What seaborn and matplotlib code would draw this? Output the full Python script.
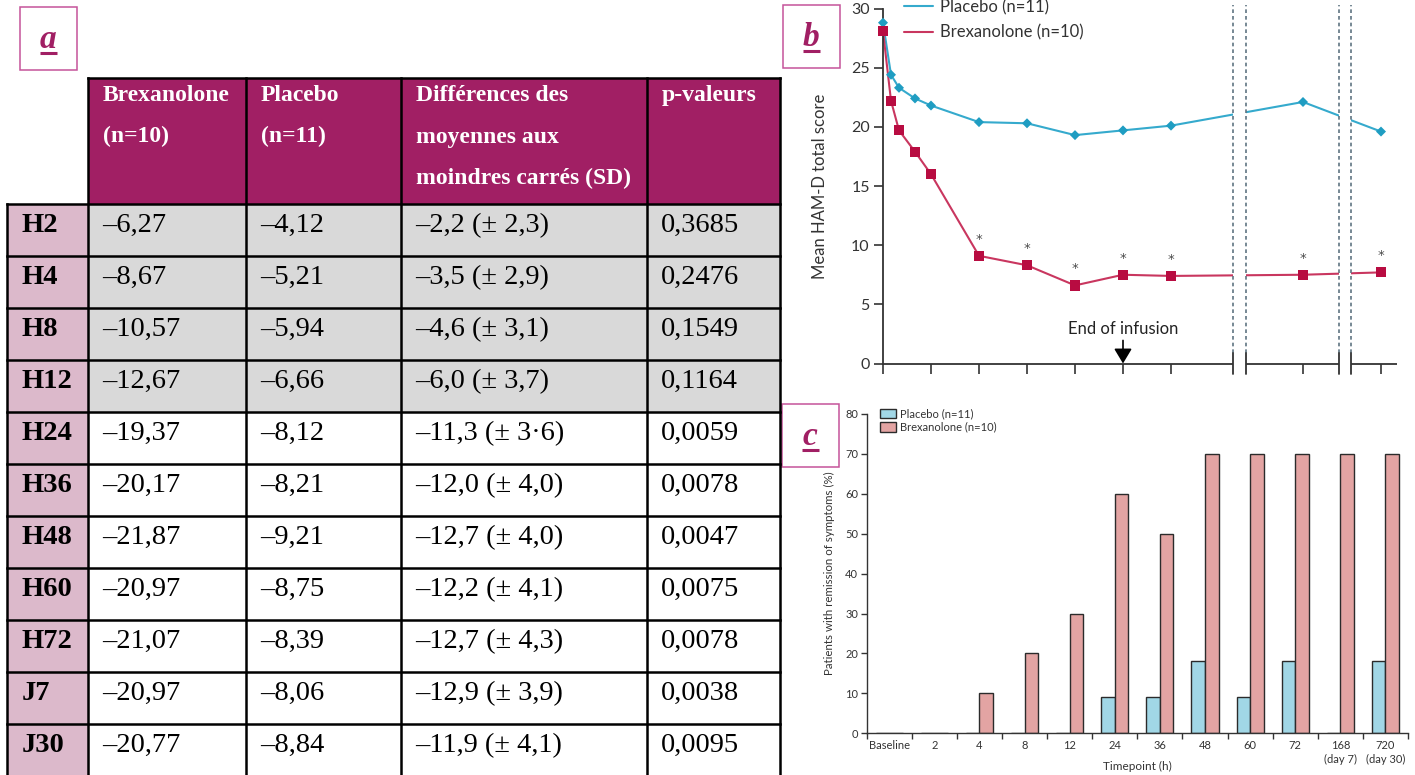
import numpy as np
import pandas as pd
import matplotlib
matplotlib.use("Agg")
import matplotlib.pyplot as plt
from matplotlib.patches import Rectangle, Patch
from matplotlib.lines import Line2D
import seaborn as sns

# ---------------- data ----------------
# (a) change from baseline in HAM-D total score
table_rows = ["H2", "H4", "H8", "H12", "H24", "H36", "H48", "H60", "H72", "J7", "J30"]
table_headers = [
    ["Brexanolone", "(n=10)"],
    ["Placebo", "(n=11)"],
    ["Différences des", "moyennes aux", "moindres carrés (SD)"],
    ["p-valeurs"],
]
brex_change = ["–6,27", "–8,67", "–10,57", "–12,67", "–19,37", "–20,17",
               "–21,87", "–20,97", "–21,07", "–20,97", "–20,77"]
placebo_change = ["–4,12", "–5,21", "–5,94", "–6,66", "–8,12", "–8,21",
                  "–9,21", "–8,75", "–8,39", "–8,06", "–8,84"]
ls_mean_diff = ["–2,2 (± 2,3)", "–3,5 (± 2,9)", "–4,6 (± 3,1)", "–6,0 (± 3,7)",
                "–11,3 (± 3·6)", "–12,0 (± 4,0)", "–12,7 (± 4,0)", "–12,2 (± 4,1)",
                "–12,7 (± 4,3)", "–12,9 (± 3,9)", "–11,9 (± 4,1)"]
p_values = ["0,3685", "0,2476", "0,1549", "0,1164", "0,0059", "0,0078",
            "0,0047", "0,0075", "0,0078", "0,0038", "0,0095"]

# (b) mean HAM-D total score over time (hours)
hours = [0, 2, 4, 8, 12, 24, 36, 48, 60, 72, 168, 720]
hamd_placebo = [28.8, 24.4, 23.3, 22.4, 21.8, 20.4, 20.3, 19.3, 19.7, 20.1, 22.1, 19.6]
hamd_brex = [28.1, 22.2, 19.7, 17.9, 16.0, 9.1, 8.3, 6.6, 7.5, 7.4, 7.5, 7.7]

# (c) patients with remission of symptoms (%)
remission_labels = ["Baseline", "2", "4", "8", "12", "24", "36", "48", "60", "72",
                    "168\n(day 7)", "720\n(day 30)"]
remission_placebo = [0, 0, 0, 0, 0, 9.1, 9.1, 18.2, 9.1, 18.2, 0, 18.2]
remission_brex = [0, 0, 10, 20, 30, 60, 50, 70, 70, 70, 70, 70]

PLACEBO = "Placebo (n=11)"
BREX = "Brexanolone (n=10)"

# ---------------- style ----------------
sns.set_theme(style="white")
plt.rcParams["font.family"] = ["Lato", "DejaVu Sans"]
SERIF = "Liberation Serif"

PURPLE = "#A11F64"
PINK_CELL = "#DCB9CB"
GRAY_ROW = "#D9D9D9"
BOX_EDGE = "#C5549A"
AXIS = "#333333"

W, H = 1415, 775
fig = plt.figure(figsize=(W / 100, H / 100), dpi=100)

# full-figure canvas in pixel units for the table and panel tags
canvas = fig.add_axes([0, 0, 1, 1])
canvas.set_xlim(0, W)
canvas.set_ylim(H, 0)
canvas.axis("off")


def px_axes(left, top, right, bottom):
    return fig.add_axes([left / W, 1 - bottom / H, (right - left) / W, (bottom - top) / H])


def panel_tag(x0, y0, letter):
    canvas.add_patch(Rectangle((x0, y0), 57, 63, fc="white", ec=BOX_EDGE, lw=1.1))
    canvas.text(x0 + 28, y0 + 41, letter, family=SERIF, weight="bold", style="italic",
                size=24, color=PURPLE, ha="center", va="baseline")
    canvas.plot([x0 + 19.5, x0 + 36.5], [y0 + 46, y0 + 46], color=PURPLE, lw=2.2,
                solid_capstyle="butt")


# ---------------- (a) table ----------------
col_x = [88, 246, 401, 647, 780]
label_x0 = 7
header_top, body_top, row_h = 78, 204, 52
p_float = [float(p.replace(",", ".")) for p in p_values]
n_rows = len(table_rows)
table_bottom = body_top + n_rows * row_h + 10

canvas.add_patch(Rectangle((col_x[0], header_top), col_x[-1] - col_x[0],
                           body_top - header_top, fc=PURPLE, lw=0))
canvas.add_patch(Rectangle((label_x0, body_top), col_x[0] - label_x0,
                           table_bottom - body_top, fc=PINK_CELL, lw=0))
for i, p in enumerate(p_float):
    fill = GRAY_ROW if p > 0.05 else "white"
    canvas.add_patch(Rectangle((col_x[0], body_top + i * row_h), col_x[-1] - col_x[0],
                               row_h, fc=fill, lw=0))

line_kw = dict(color="black", lw=1.8, solid_capstyle="projecting")
canvas.plot([col_x[0], col_x[-1]], [header_top, header_top], **line_kw)
for i in range(n_rows + 1):
    y = body_top + i * row_h
    canvas.plot([label_x0, col_x[-1]], [y, y], **line_kw)
canvas.plot([label_x0, label_x0], [body_top, table_bottom], **line_kw)
for x in col_x:
    canvas.plot([x, x], [header_top, table_bottom], **line_kw)

header_baselines = [100.7, 142.5, 184.3]
for j, lines in enumerate(table_headers):
    for k, txt in enumerate(lines):
        canvas.text(col_x[j] + 15, header_baselines[k], txt, family=SERIF, weight="bold",
                    size=17, color="white", ha="left", va="baseline")

columns = [brex_change, placebo_change, ls_mean_diff, p_values]
for i, lab in enumerate(table_rows):
    yb = body_top + i * row_h + 28
    canvas.text(label_x0 + 15, yb, lab, family=SERIF, weight="bold", size=20.5,
                color="black", ha="left", va="baseline")
    for j, col in enumerate(columns):
        canvas.text(col_x[j] + 14, yb, col[i], family=SERIF, size=20.5,
                    color="black", ha="left", va="baseline")

panel_tag(20, 7, "a")
panel_tag(783, 5, "b")
panel_tag(782, 404, "c")


# ---------------- (b) HAM-D time course ----------------
def broken_x(h):
    # hours up to 72 are linear; later visits sit after axis breaks
    return float(h) if h <= 72 else {168: 105.0, 720: 124.5}[h]


breaks = [(87.5, 90.75), (114.0, 117.0)]
x_end = 128.5

ax_b = px_axes(883, 8.5, 883 + 4 * x_end, 363.5)
ax_b.set_facecolor("none")
df_b = pd.DataFrame({
    "pos": [broken_x(h) for h in hours] * 2,
    "score": hamd_placebo + hamd_brex,
    "group": [PLACEBO] * len(hours) + [BREX] * len(hours),
})
sns.lineplot(data=df_b, x="pos", y="score", hue="group", hue_order=[PLACEBO, BREX],
             palette={PLACEBO: "#35AACD", BREX: "#C9365F"}, linewidth=1.5,
             errorbar=None, sort=False, legend=False, ax=ax_b, zorder=2)
for b0, b1 in breaks:
    ax_b.axvspan(b0, b1, color="white", lw=0, zorder=3)
sns.scatterplot(data=df_b, x="pos", y="score", hue="group", style="group",
                size="group", hue_order=[PLACEBO, BREX],
                markers={PLACEBO: "D", BREX: "s"}, sizes={PLACEBO: 26, BREX: 54},
                palette={PLACEBO: "#1F9DC2", BREX: "#B80C41"}, linewidth=0,
                legend=False, ax=ax_b, zorder=4, clip_on=False)

for b0, b1 in breaks:
    for xb in (b0, b1):
        ax_b.plot([xb, xb], [0.85, 30.3], ls=(0, (2.2, 1.8)), color="#5F7482", lw=1.2,
                  clip_on=False, zorder=5)
        ax_b.plot([xb, xb], [-0.85, 0.85], color=AXIS, lw=1.3, clip_on=False, zorder=5)

seg_edges = [0.0] + [v for b in breaks for v in b] + [x_end]
for s0, s1 in zip(seg_edges[::2], seg_edges[1::2]):
    ax_b.plot([s0, s1], [0, 0], color=AXIS, lw=1.3, clip_on=False, zorder=5,
              solid_capstyle="butt")

for h, v, p in zip(hours[1:], hamd_brex[1:], p_float):
    if p < 0.05:
        ax_b.annotate("*", (broken_x(h), v), xytext=(0, 12), textcoords="offset points",
                      ha="center", va="center", fontsize=9.5, family="DejaVu Sans",
                      color="#4A4A4A")

ax_b.text(60, 2.9, "End of infusion", ha="center", va="center", fontsize=12, color="#222222")
ax_b.annotate("", xy=(60, 0), xytext=(60, 1.95),
              arrowprops=dict(arrowstyle="-|>,head_length=0.45,head_width=0.27",
                              mutation_scale=20, color="black", lw=1.2,
                              shrinkA=0, shrinkB=0))

ax_b.set_xlim(0, x_end)
ax_b.set_ylim(0, 30)
ax_b.set_xticks([0, 12, 24, 36, 48, 60, 72, broken_x(168), broken_x(720)])
ax_b.set_xticklabels([])
ax_b.set_yticks(range(0, 31, 5))
ax_b.tick_params(axis="x", length=7, width=1.2, color=AXIS, direction="out", bottom=True)
ax_b.tick_params(axis="y", length=6.5, width=1.2, color=AXIS, direction="out", left=True,
                 labelsize=11.5, labelcolor="#333333", pad=3)
for side in ("top", "right", "bottom"):
    ax_b.spines[side].set_visible(False)
ax_b.spines["left"].set_color(AXIS)
ax_b.spines["left"].set_linewidth(1.3)
ax_b.set_xlabel("")
ax_b.set_ylabel("Mean HAM-D total score", fontsize=12, color="#333333")
ax_b.yaxis.set_label_coords(-0.107, 0.5)

b_handles = [Line2D([], [], color="#35AACD", lw=1.5), Line2D([], [], color="#C9365F", lw=1.5)]
ax_b.legend(b_handles, [PLACEBO, BREX], loc="upper left", bbox_to_anchor=(904 / W, 1 + 1 / H),
            bbox_transform=fig.transFigure, frameon=False, fontsize=12, handlelength=1.75,
            handletextpad=0.42, labelspacing=0.55, borderpad=0, borderaxespad=0,
            labelcolor="#333333")

# ---------------- (c) remission bars ----------------
ax_c = px_axes(866.6, 414, 1408, 733.3)
ax_c.set_facecolor("none")
df_c = pd.DataFrame({
    "timepoint": remission_labels * 2,
    "pct": remission_placebo + remission_brex,
    "group": [PLACEBO] * len(remission_labels) + [BREX] * len(remission_labels),
})
bar_pal = {PLACEBO: "#A1D7E6", BREX: "#E3A4A3"}
sns.barplot(data=df_c, x="timepoint", y="pct", hue="group", order=remission_labels,
            hue_order=[PLACEBO, BREX], palette=bar_pal, saturation=1, width=0.6,
            edgecolor="#2b2b2b", linewidth=1.0, errorbar=None, legend=False, ax=ax_c)

ax_c.set_xlim(-0.5, len(remission_labels) - 0.5)
ax_c.set_ylim(0, 80)
ax_c.set_yticks(range(0, 81, 10))
ax_c.set_xticks(np.arange(-0.5, len(remission_labels)), minor=True)
ax_c.tick_params(axis="x", which="major", length=0, pad=5, labelsize=8, labelcolor="#333333")
ax_c.tick_params(axis="x", which="minor", length=4, width=1.0, color=AXIS, direction="out",
                 bottom=True)
ax_c.tick_params(axis="y", length=4.5, width=1.0, color=AXIS, direction="out", left=True,
                 labelsize=8, labelcolor="#333333", pad=1.5)
for lbl in ax_c.get_xticklabels():
    lbl.set_linespacing(1.35)
for side in ("top", "right"):
    ax_c.spines[side].set_visible(False)
for side in ("left", "bottom"):
    ax_c.spines[side].set_color(AXIS)
    ax_c.spines[side].set_linewidth(1.0)
ax_c.set_xlabel("Timepoint (h)", fontsize=8.5, color="#333333")
ax_c.xaxis.set_label_coords(0.5, -0.088)
ax_c.set_ylabel("Patients with remission of symptoms (%)", fontsize=8.3, color="#333333")
ax_c.yaxis.set_label_coords(-0.058, 0.5)

c_handles = [Patch(fc=bar_pal[PLACEBO], ec="#2b2b2b", lw=1.0),
             Patch(fc=bar_pal[BREX], ec="#2b2b2b", lw=1.0)]
ax_c.legend(c_handles, [PLACEBO, BREX], loc="upper left",
            bbox_to_anchor=((880 - 866.6) / 541.4, (733.3 - 408) / 319.3),
            frameon=False, fontsize=8, handlelength=1.4, handleheight=0.9,
            handletextpad=0.4, labelspacing=0.25, borderpad=0, borderaxespad=0,
            labelcolor="#333333")

fig.savefig("out.png", dpi=100)
